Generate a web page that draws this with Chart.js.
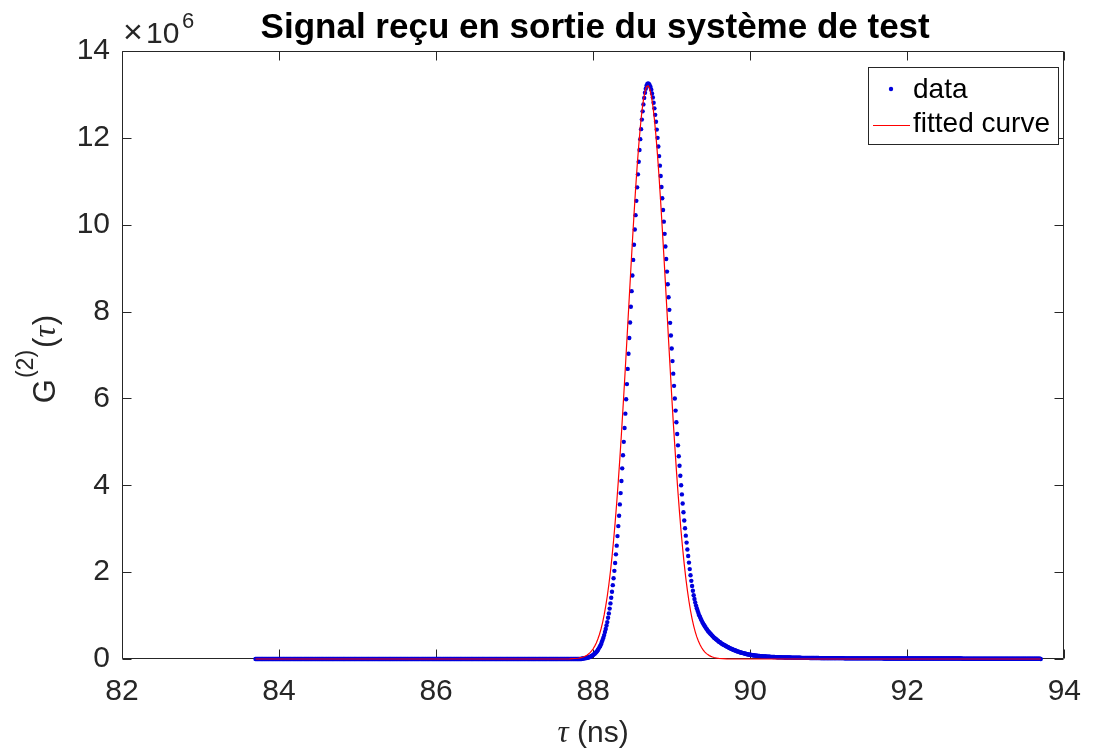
<!DOCTYPE html>
<html>
<head>
<meta charset="utf-8">
<title>Signal reçu en sortie du système de test</title>
<script src="https://cdn.jsdelivr.net/npm/chart.js@4.4.1/dist/chart.umd.min.js"></script>
<style>
  html, body { margin: 0; padding: 0; background: #ffffff; }
  #wrap { width: 1096px; height: 755px; }
</style>
</head>
<body>
<div id="wrap"><canvas id="graph" width="1096" height="755"></canvas></div>
<script>
// ========== DONNEES ==========

// histogramme : un bin tous les 10 ps, de 83.70 ns a 93.70 ns
const tauStart = 83.70;
const tauStep = 0.01;

// G2 mesure (x 10^6), une ligne = 0.1 ns
const g2Data = [
  0,0,0,0,0,0,0,0,0,0,            // 83.7
  0,0,0,0,0,0,0,0,0,0,            // 83.8
  0,0,0,0,0,0,0,0,0,0,            // 83.9
  0,0,0,0,0,0,0,0,0,0,            // 84.0
  0,0,0,0,0,0,0,0,0,0,            // 84.1
  0,0,0,0,0,0,0,0,0,0,            // 84.2
  0,0,0,0,0,0,0,0,0,0,            // 84.3
  0,0,0,0,0,0,0,0,0,0,            // 84.4
  0,0,0,0,0,0,0,0,0,0,            // 84.5
  0,0,0,0,0,0,0,0,0,0,            // 84.6
  0,0,0,0,0,0,0,0,0,0,            // 84.7
  0,0,0,0,0,0,0,0,0,0,            // 84.8
  0,0,0,0,0,0,0,0,0,0,            // 84.9
  0,0,0,0,0,0,0,0,0,0,            // 85.0
  0,0,0,0,0,0,0,0,0,0,            // 85.1
  0,0,0,0,0,0,0,0,0,0,            // 85.2
  0,0,0,0,0,0,0,0,0,0,            // 85.3
  0,0,0,0,0,0,0,0,0,0,            // 85.4
  0,0,0,0,0,0,0,0,0,0,            // 85.5
  0,0,0,0,0,0,0,0,0,0,            // 85.6
  0,0,0,0,0,0,0,0,0,0,            // 85.7
  0,0,0,0,0,0,0,0,0,0,            // 85.8
  0,0,0,0,0,0,0,0,0,0,            // 85.9
  0,0,0,0,0,0,0,0,0,0,            // 86.0
  0,0,0,0,0,0,0,0,0,0,            // 86.1
  0,0,0,0,0,0,0,0,0,0,            // 86.2
  0,0,0,0,0,0,0,0,0,0,            // 86.3
  0,0,0,0,0,0,0,0,0,0,            // 86.4
  0,0,0,0,0,0,0,0,0,0,            // 86.5
  0,0,0,0,0,0,0,0,0,0,            // 86.6
  0,0,0,0,0,0,0,0,0,0,            // 86.7
  0,0,0,0,0,0,0,0,0,0,            // 86.8
  0,0,0,0,0,0,0,0,0,0,            // 86.9
  0,0,0,0,0,0,0,0,0,0,            // 87.0
  0,0,0,0,0,0,0,0,0,0,            // 87.1
  0,0,0,0,0,0,0,0,0,0,            // 87.2
  0,0,0,0,0,0,0,0,0,0,            // 87.3
  0,0,0,0,0,0,0,0,0,0,            // 87.4
  0,0,0,0,0,0,0,0,0,0,            // 87.5
  0,0,0,0,0,0,0,0,0,0,            // 87.6
  0,0,0,0,0,0,0,0,0,0,            // 87.7
  0,0,0,0,0,0,0.01,0.01,0.01,0.02,                         // 87.8
  0.02,0.02,0.03,0.03,0.04,0.04,0.05,0.06,0.07,0.08,       // 87.9
  0.09,0.11,0.12,0.14,0.16,0.18,0.21,0.24,0.27,0.30,       // 88.0
  0.34,0.39,0.44,0.49,0.55,0.62,0.69,0.77,0.85,0.95,       // 88.1
  1.05,1.16,1.28,1.41,1.55,1.70,1.86,2.03,2.21,2.41,       // 88.2
  2.61,2.83,3.06,3.30,3.56,3.82,4.10,4.39,4.69,5.00,       // 88.3
  5.32,5.65,5.98,6.33,6.68,7.03,7.39,7.75,8.11,8.47,       // 88.4
  8.83,9.19,9.54,9.89,10.22,10.55,10.86,11.16,11.45,11.72, // 88.5
  11.97,12.20,12.42,12.61,12.77,12.92,13.04,13.13,13.20,13.24, // 88.6
  13.25,13.24,13.21,13.17,13.11,13.02,12.93,12.81,12.68,12.53, // 88.7
  12.37,12.19,12.00,11.80,11.58,11.36,11.12,10.87,10.61,10.34, // 88.8
  10.07,9.79,9.50,9.21,8.92,8.63,8.33,8.04,7.74,7.45,      // 88.9
  7.15,6.86,6.57,6.29,6.00,5.72,5.45,5.18,4.92,4.67,       // 89.0
  4.45,4.22,4.00,3.79,3.58,3.38,3.19,3.01,2.84,2.68,       // 89.1
  2.52,2.37,2.22,2.07,1.93,1.80,1.68,1.57,1.47,1.38,       // 89.2
  1.30,1.23,1.17,1.11,1.06,1.01,0.97,0.93,0.89,0.85,       // 89.3
  0.82,0.79,0.76,0.73,0.70,0.68,0.65,0.63,0.61,0.59,       // 89.4
  0.57,0.55,0.53,0.51,0.49,0.48,0.46,0.45,0.43,0.42,       // 89.5
  0.40,0.39,0.38,0.36,0.35,0.34,0.33,0.32,0.31,0.30,       // 89.6
  0.29,0.28,0.27,0.26,0.25,0.24,0.235,0.225,0.22,0.21,     // 89.7
  0.20,0.195,0.19,0.18,0.175,0.17,0.16,0.155,0.15,0.145,   // 89.8
  0.14,0.135,0.13,0.125,0.12,0.115,0.11,0.107,0.104,0.10,  // 89.9
  0.097,0.094,0.091,0.088,0.085,0.082,0.080,0.078,0.076,0.074, // 90.0
  0.072,0.070,0.068,0.066,0.064,0.063,0.061,0.060,0.058,0.057, // 90.1
  0.056,0.055,0.054,0.053,0.052,0.051,0.050,0.049,0.048,0.047, // 90.2
  0.046,0.045,0.044,0.043,0.042,0.042,0.041,0.040,0.040,0.039, // 90.3
  0.038,0.038,0.037,0.037,0.036,0.036,0.035,0.035,0.034,0.034, // 90.4
  0.033,0.033,0.032,0.032,0.031,0.031,0.030,0.030,0.030,0.029, // 90.5
  0.029,0.029,0.028,0.028,0.028,0.027,0.027,0.027,0.026,0.026, // 90.6
  0.026,0.026,0.025,0.025,0.025,0.025,0.024,0.024,0.024,0.024, // 90.7
  0.023,0.023,0.023,0.023,0.022,0.022,0.022,0.022,0.021,0.021, // 90.8
  0.02,0.02,0.02,0.02,0.02,0.02,0.02,0.02,0.02,0.02,       // 90.9
  0.02,0.02,0.02,0.02,0.02,0.02,0.02,0.02,0.02,0.02,       // 91.0
  0.02,0.02,0.02,0.02,0.02,0.02,0.02,0.02,0.02,0.02,       // 91.1
  0.015,0.015,0.015,0.015,0.015,0.015,0.015,0.015,0.015,0.015, // 91.2
  0.015,0.015,0.015,0.015,0.015,0.015,0.015,0.015,0.015,0.015, // 91.3
  0.015,0.015,0.015,0.015,0.015,0.015,0.015,0.015,0.015,0.015, // 91.4
  0.015,0.015,0.015,0.015,0.015,0.015,0.015,0.015,0.015,0.015, // 91.5
  0.015,0.015,0.015,0.015,0.015,0.015,0.015,0.015,0.015,0.015, // 91.6
  0.01,0.01,0.01,0.01,0.01,0.01,0.01,0.01,0.01,0.01,       // 91.7
  0.01,0.01,0.01,0.01,0.01,0.01,0.01,0.01,0.01,0.01,       // 91.8
  0.01,0.01,0.01,0.01,0.01,0.01,0.01,0.01,0.01,0.01,       // 91.9
  0.01,0.01,0.01,0.01,0.01,0.01,0.01,0.01,0.01,0.01,       // 92.0
  0.01,0.01,0.01,0.01,0.01,0.01,0.01,0.01,0.01,0.01,       // 92.1
  0.01,0.01,0.01,0.01,0.01,0.01,0.01,0.01,0.01,0.01,       // 92.2
  0.01,0.01,0.01,0.01,0.01,0.01,0.01,0.01,0.01,0.01,       // 92.3
  0.01,0.01,0.01,0.01,0.01,0.01,0.01,0.01,0.01,0.01,       // 92.4
  0.01,0.01,0.01,0.01,0.01,0.01,0.01,0.01,0.01,0.01,       // 92.5
  0.01,0.01,0.01,0.01,0.01,0.01,0.01,0.01,0.01,0.01,       // 92.6
  0.005,0.005,0.005,0.005,0.005,0.005,0.005,0.005,0.005,0.005, // 92.7
  0.005,0.005,0.005,0.005,0.005,0.005,0.005,0.005,0.005,0.005, // 92.8
  0.005,0.005,0.005,0.005,0.005,0.005,0.005,0.005,0.005,0.005, // 92.9
  0.005,0.005,0.005,0.005,0.005,0.005,0.005,0.005,0.005,0.005, // 93.0
  0.005,0.005,0.005,0.005,0.005,0.005,0.005,0.005,0.005,0.005, // 93.1
  0.005,0.005,0.005,0.005,0.005,0.005,0.005,0.005,0.005,0.005, // 93.2
  0.005,0.005,0.005,0.005,0.005,0.005,0.005,0.005,0.005,0.005, // 93.3
  0.005,0.005,0.005,0.005,0.005,0.005,0.005,0.005,0.005,0.005, // 93.4
  0.005,0.005,0.005,0.005,0.005,0.005,0.005,0.005,0.005,0.005, // 93.5
  0.005,0.005,0.005,0.005,0.005,0.005,0.005,0.005,0.005,0.005, // 93.6
  0                                                        // 93.7
];

// courbe ajustee (gaussienne), relevee point par point
const fitTau = [
  83.70, 87.70,
  87.80, 87.82, 87.84, 87.86, 87.88, 87.90, 87.92, 87.94, 87.96, 87.98,
  88.00, 88.02, 88.04, 88.06, 88.08, 88.10, 88.12, 88.14, 88.16, 88.18,
  88.20, 88.22, 88.24, 88.26, 88.28, 88.30, 88.32, 88.34, 88.36, 88.38,
  88.40, 88.42, 88.44, 88.46, 88.48, 88.50, 88.52, 88.54, 88.56, 88.58,
  88.60, 88.62, 88.64, 88.66, 88.68, 88.70, 88.72, 88.74, 88.76, 88.78,
  88.80, 88.82, 88.84, 88.86, 88.88, 88.90, 88.92, 88.94, 88.96, 88.98,
  89.00, 89.02, 89.04, 89.06, 89.08, 89.10, 89.12, 89.14, 89.16, 89.18,
  89.20, 89.22, 89.24, 89.26, 89.28, 89.30, 89.32, 89.34, 89.36, 89.38,
  89.40, 89.42, 89.44, 89.46, 89.48, 89.50, 89.52, 89.54, 89.56, 89.58,
  89.60, 89.70, 93.70
];
const fitG = [
  0, 0.003,
  0.017, 0.022, 0.030, 0.040, 0.052, 0.068, 0.088, 0.114, 0.147, 0.187,
  0.236, 0.297, 0.370, 0.459, 0.565, 0.691, 0.840, 1.015, 1.217, 1.450,
  1.715, 2.016, 2.352, 2.730, 3.144, 3.597, 4.09, 4.62, 5.18, 5.78,
  6.39, 7.03, 7.68, 8.33, 8.98, 9.62, 10.23, 10.81, 11.34, 11.82,
  12.24, 12.60, 12.87, 13.07, 13.18, 13.20, 13.13, 12.98, 12.74, 12.43,
  12.04, 11.59, 11.08, 10.52, 9.92, 9.30, 8.66, 8.01, 7.35, 6.71,
  6.07, 5.46, 4.90, 4.35, 3.84, 3.37, 2.93, 2.54, 2.18, 1.86,
  1.58, 1.33, 1.111, 0.924, 0.763, 0.626, 0.509, 0.413, 0.332, 0.265,
  0.210, 0.165, 0.129, 0.101, 0.078, 0.060, 0.045, 0.034, 0.026, 0.019,
  0.014, 0.003, 0
];

// graduations
const xTicks = [82, 84, 86, 88, 90, 92, 94];
const yTicks = [0, 2, 4, 6, 8, 10, 12, 14];

// ========== STYLE ==========
const police = '"Liberation Sans", Arial, Helvetica, sans-serif';
const gris = '#262626';
const bleu = '#0000dd';
const rouge = '#ff0000';

const dataPoints = g2Data.map((g, i) => ({ x: tauStart + i * tauStep, y: g }));
const fitPoints = fitTau.map((t, i) => ({ x: t, y: fitG[i] }));

// Cadre facon Matlab : boite + graduations vers l'interieur, titres, legende
const cadreMatlab = {
    id: 'cadreMatlab',
    beforeDatasetsDraw(chart) {
        const { ctx, chartArea: a, scales } = chart;
        const L = Math.round(a.left) + 0.5, R = Math.round(a.right) - 0.5;
        const T = Math.round(a.top) + 0.5, B = Math.round(a.bottom) - 0.5;
        ctx.save();
        ctx.strokeStyle = gris;
        ctx.lineWidth = 1;
        ctx.beginPath();
        ctx.rect(L, T, R - L, B - T);
        scales.x.ticks.forEach(t => {
            const px = Math.round(scales.x.getPixelForValue(t.value)) + 0.5;
            ctx.moveTo(px, B); ctx.lineTo(px, B - 9);
            ctx.moveTo(px, T); ctx.lineTo(px, T + 9);
        });
        scales.y.ticks.forEach(t => {
            const py = Math.round(scales.y.getPixelForValue(t.value)) + 0.5;
            ctx.moveTo(L, py); ctx.lineTo(L + 9, py);
            ctx.moveTo(R, py); ctx.lineTo(R - 9, py);
        });
        ctx.stroke();
        ctx.restore();
    },
    afterDraw(chart) {
        const { ctx, chartArea: a } = chart;
        const cx = (a.left + a.right) / 2;
        ctx.save();

        // titre
        ctx.fillStyle = '#000';
        ctx.font = 'bold 35px ' + police;
        ctx.textAlign = 'center';
        ctx.textBaseline = 'alphabetic';
        ctx.fillText('Signal reçu en sortie du système de test', cx + 2, 38);

        // facteur x10^6
        ctx.fillStyle = gris;
        ctx.textAlign = 'left';
        ctx.font = '34px ' + police;
        ctx.fillText('\u00d7', a.left + 1, 43);
        ctx.font = '30px ' + police;
        ctx.fillText('10', a.left + 24, 43);
        ctx.font = '22px ' + police;
        ctx.fillText('6', a.left + 60, 28);

        // label axe x : tau (ns)
        const pX = [
            { t: '\u03c4', f: 'italic 31px "Liberation Serif", serif' },
            { t: ' (ns)', f: '30px ' + police }
        ];
        let tot = 0;
        pX.forEach(p => { ctx.font = p.f; p.w = ctx.measureText(p.t).width; tot += p.w; });
        let x = cx - tot / 2;
        pX.forEach(p => { ctx.font = p.f; ctx.fillText(p.t, x, 742); x += p.w; });

        // label axe y : G^(2)(tau)
        const pY = [
            { t: 'G', f: '31px ' + police, dy: 0, gap: 1 },
            { t: '(2)', f: '23px ' + police, dy: -22, gap: 2 },
            { t: '(', f: '31px ' + police, dy: 0, gap: 0 },
            { t: '\u03c4', f: 'italic 32px "Liberation Serif", serif', dy: 0, gap: 1 },
            { t: ')', f: '31px ' + police, dy: 0, gap: 0 }
        ];
        tot = 0;
        pY.forEach(p => { ctx.font = p.f; p.w = ctx.measureText(p.t).width + p.gap; tot += p.w; });
        ctx.translate(55, 359);
        ctx.rotate(-Math.PI / 2);
        x = -tot / 2;
        pY.forEach(p => { ctx.font = p.f; ctx.fillText(p.t, x, p.dy); x += p.w; });
        ctx.setTransform(1, 0, 0, 1, 0, 0);

        // legende
        ctx.fillStyle = '#fff';
        ctx.fillRect(868, 67, 190, 77);
        ctx.strokeStyle = gris;
        ctx.lineWidth = 1;
        ctx.strokeRect(868.5, 67.5, 190, 77);
        ctx.fillStyle = bleu;
        ctx.beginPath();
        ctx.arc(891, 89, 2.2, 0, Math.PI * 2);
        ctx.fill();
        ctx.strokeStyle = rouge;
        ctx.lineWidth = 1.2;
        ctx.beginPath();
        ctx.moveTo(873, 125.5);
        ctx.lineTo(910, 125.5);
        ctx.stroke();
        ctx.fillStyle = '#000';
        ctx.font = '28px ' + police;
        ctx.textBaseline = 'middle';
        ctx.fillText('data', 913, 90);
        ctx.fillText('fitted curve', 913, 124);
        ctx.restore();
    }
};

// ========== GRAPHIQUE ==========
const graph = new Chart(document.getElementById('graph'), {
    type: 'scatter',
    data: {
        datasets: [
            {
                label: 'fitted curve',
                data: fitPoints,
                showLine: true,
                borderColor: rouge,
                borderWidth: 1.2,
                pointRadius: 0,
                pointHoverRadius: 0,
                order: 0,
                clip: 6
            },
            {
                label: 'data',
                data: dataPoints,
                showLine: false,
                pointRadius: 2.2,
                pointHoverRadius: 0,
                pointBackgroundColor: bleu,
                pointBorderWidth: 0,
                order: 1,
                clip: 6
            }
        ]
    },
    options: {
        responsive: false,
        animation: false,
        devicePixelRatio: 1,
        events: [],
        layout: { padding: { top: 51, right: 26, left: 0, bottom: 0 } },
        plugins: {
            legend: { display: false },
            title: { display: false },
            tooltip: { enabled: false }
        },
        scales: {
            x: {
                type: 'linear',
                min: 82,
                max: 94,
                grid: { display: false, drawTicks: false },
                border: { display: false },
                afterBuildTicks: s => { s.ticks = xTicks.map(v => ({ value: v })); },
                afterFit: s => { s.height = 96; },
                ticks: {
                    color: gris,
                    font: { family: police, size: 30 },
                    padding: 15,
                    maxRotation: 0,
                    autoSkip: false
                }
            },
            y: {
                type: 'linear',
                min: 0,
                max: 14,
                grid: { display: false, drawTicks: false },
                border: { display: false },
                afterBuildTicks: s => { s.ticks = yTicks.map(v => ({ value: v })); },
                afterFit: s => { s.width = 122; },
                ticks: {
                    color: gris,
                    font: { family: police, size: 30 },
                    padding: 12
                }
            }
        }
    },
    plugins: [cadreMatlab]
});
</script>
</body>
</html>
